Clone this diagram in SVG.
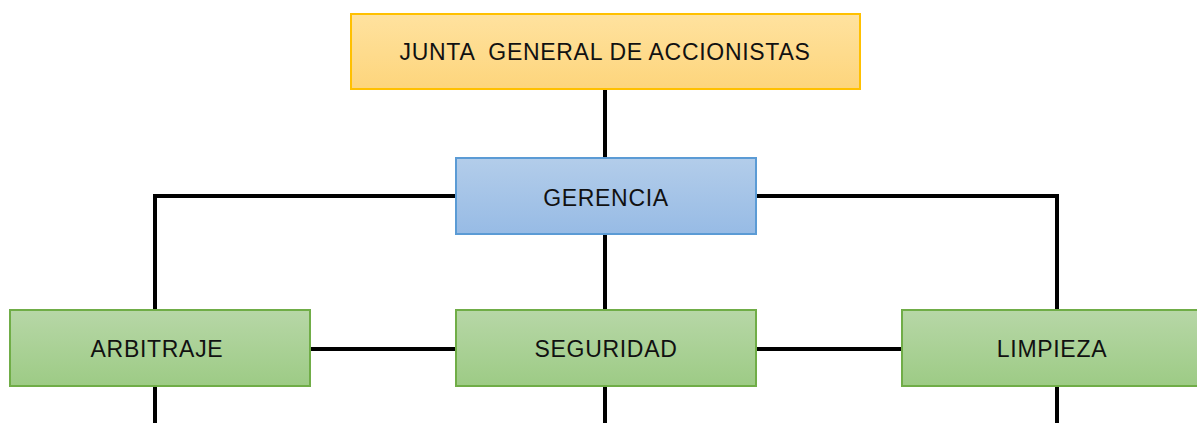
<svg xmlns="http://www.w3.org/2000/svg" width="1197" height="423" viewBox="0 0 1197 423">
<defs>
<linearGradient id="gy" x1="0" y1="0" x2="0" y2="1"><stop offset="0" stop-color="#ffe29f"/><stop offset="1" stop-color="#fdd57c"/></linearGradient>
<linearGradient id="gb" x1="0" y1="0" x2="0" y2="1"><stop offset="0" stop-color="#b3cdea"/><stop offset="1" stop-color="#97bbe5"/></linearGradient>
<linearGradient id="gg" x1="0" y1="0" x2="0" y2="1"><stop offset="0" stop-color="#b7d7a7"/><stop offset="1" stop-color="#9dcb85"/></linearGradient>
</defs>
<style>
.t{font-family:"Liberation Sans",Arial,sans-serif;font-size:23px;letter-spacing:0.7px;fill:#111;text-anchor:middle;white-space:pre}
.c{stroke:#000;stroke-width:4;fill:none}
.y{fill:url(#gy);stroke:#ffc000;stroke-width:2}
.b{fill:url(#gb);stroke:#5b9bd5;stroke-width:2}
.g{fill:url(#gg);stroke:#70ad47;stroke-width:2}
</style>
<rect width="1197" height="423" fill="#fff"/>
<g id="connectors">
<path class="c" d="M605,89V158M605,235V309M605,386V423"/>
<path class="c" d="M456,196H155V309M756,196H1057V309"/>
<path class="c" d="M310,349H455M756,349H902"/>
<path class="c" d="M155,386V423M1057,386V423"/>
</g>
<g id="junta"><rect class="y" x="351" y="14" width="509" height="75"/><text class="t" x="605" y="60" xml:space="preserve">JUNTA  GENERAL DE ACCIONISTAS</text></g>
<g id="gerencia"><rect class="b" x="456" y="158" width="300" height="76"/><text class="t" x="606" y="206">GERENCIA</text></g>
<g id="arbitraje"><rect class="g" x="10" y="310" width="300" height="76"/><text class="t" x="157" y="357">ARBITRAJE</text></g>
<g id="seguridad"><rect class="g" x="456" y="310" width="300" height="76"/><text class="t" x="606" y="357">SEGURIDAD</text></g>
<g id="limpieza"><rect class="g" x="902" y="310" width="300" height="76"/><text class="t" x="1052" y="357">LIMPIEZA</text></g>
</svg>
